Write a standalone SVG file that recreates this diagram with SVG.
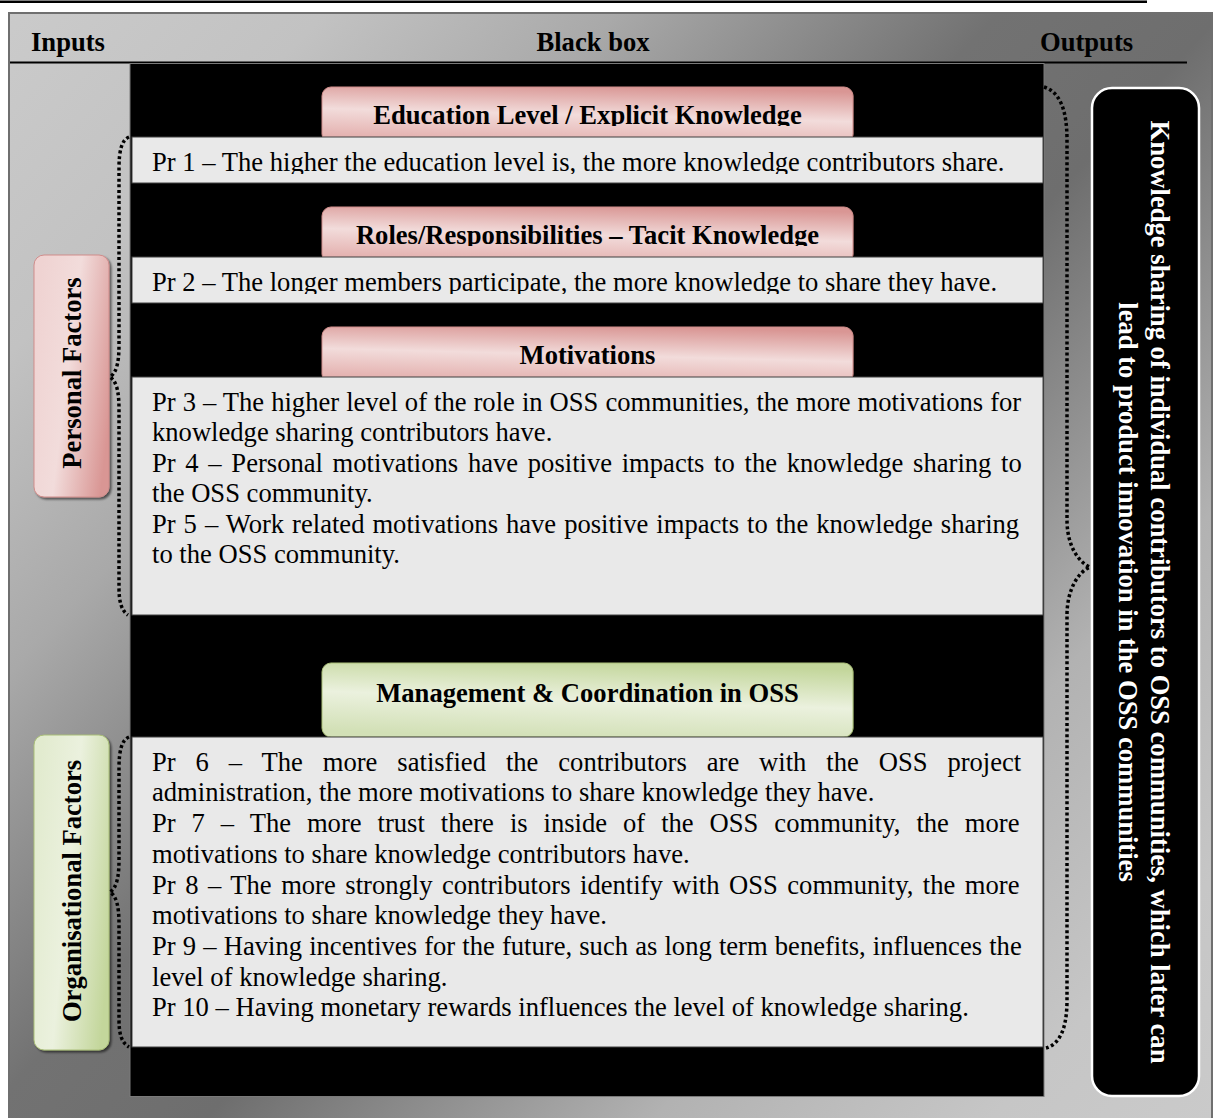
<svg xmlns="http://www.w3.org/2000/svg" width="1216" height="1118" viewBox="0 0 1216 1118">
  <defs>
    <!-- diagonal grey backdrop of the whole figure -->
    <linearGradient id="bg" gradientUnits="userSpaceOnUse" x1="0" y1="0" x2="1216" y2="1118">
      <stop offset="0" stop-color="#cbcbcb"/>
      <stop offset="0.15" stop-color="#c2c2c2"/>
      <stop offset="0.28" stop-color="#a9a9a9"/>
      <stop offset="0.45" stop-color="#727272"/>
      <stop offset="0.55" stop-color="#6e6e6e"/>
      <stop offset="0.75" stop-color="#b2b2b2"/>
      <stop offset="0.9" stop-color="#c6c6c6"/>
      <stop offset="1" stop-color="#cacaca"/>
    </linearGradient>
    <linearGradient id="pinkH" x1="0.62" y1="0" x2="0.38" y2="1">
      <stop offset="0" stop-color="#d99694"/>
      <stop offset="0.5" stop-color="#f2dcdb"/>
      <stop offset="1" stop-color="#e3aeac"/>
    </linearGradient>
    <linearGradient id="pinkV" x1="0" y1="0.3" x2="1" y2="0.7">
      <stop offset="0" stop-color="#efd3d2"/>
      <stop offset="0.45" stop-color="#f2dcdb"/>
      <stop offset="1" stop-color="#d99694"/>
    </linearGradient>
    <linearGradient id="greenH" x1="0.62" y1="0" x2="0.38" y2="1">
      <stop offset="0" stop-color="#c3d69b"/>
      <stop offset="0.5" stop-color="#ebf1de"/>
      <stop offset="1" stop-color="#d2e0b6"/>
    </linearGradient>
    <linearGradient id="greenV" x1="0" y1="0.3" x2="1" y2="0.7">
      <stop offset="0" stop-color="#e2ebcf"/>
      <stop offset="0.45" stop-color="#ebf1de"/>
      <stop offset="1" stop-color="#c3d69b"/>
    </linearGradient>
    <filter id="shadow" x="-10%" y="-10%" width="120%" height="130%">
      <feDropShadow dx="2" dy="2" stdDeviation="1" flood-color="#000" flood-opacity="0.55"/>
    </filter>
    <!-- text areas of the shapes cut their lines off -->
    <clipPath id="clipH1"><rect x="322" y="87" width="531" height="39"/></clipPath>
    <clipPath id="clipH2"><rect x="322" y="207" width="531" height="39"/></clipPath>
    <clipPath id="clipH3"><rect x="322" y="327" width="531" height="39"/></clipPath>
    <clipPath id="clipP1"><rect x="132" y="137" width="911" height="37"/></clipPath>
    <clipPath id="clipP2"><rect x="132" y="257" width="911" height="37"/></clipPath>
  </defs>
  <style>
    text { font-family: "Liberation Serif", "Times New Roman", serif; font-size: 26.6px; fill: #000; }
    .b { font-weight: bold; }
    .mid { text-anchor: middle; }
    .white { fill: #fff; }
    .panel { fill: #e9e9e9; stroke: #404040; stroke-width: 1; }
    .pinkH { fill: url(#pinkH); stroke: #d08d8b; stroke-width: 1; filter: url(#shadow); }
    .pinkV { fill: url(#pinkV); stroke: #d08d8b; stroke-width: 1; filter: url(#shadow); }
    .greenH { fill: url(#greenH); stroke: #aabf78; stroke-width: 1; filter: url(#shadow); }
    .greenV { fill: url(#greenV); stroke: #aabf78; stroke-width: 1; filter: url(#shadow); }
    .brace { fill: none; stroke: #000; stroke-width: 3.5; stroke-dasharray: 3 2.6; }
  </style>

  <!-- page rule above the figure -->
  <rect x="0" y="0.5" width="1147" height="2.5" fill="#000"/>

  <!-- figure frame and header row -->
  <g id="frame">
    <rect x="9" y="13" width="1203" height="1115" fill="url(#bg)" stroke="#6f6f6f" stroke-width="2"/>
    <rect x="10" y="61.5" width="1177" height="2" fill="#000"/>
    <text class="b" x="31" y="51">Inputs</text>
    <text class="b mid" x="593" y="51">Black box</text>
    <text class="b" x="1040" y="51">Outputs</text>
  </g>

  <!-- central black box -->
  <g id="black-box">
    <rect x="130" y="63.5" width="914" height="1033" fill="#000" stroke="#7a7a7a" stroke-width="1"/>
  </g>

  <!-- personal factors -->
  <g id="education-header">
    <rect class="pinkH" x="322" y="87" width="531" height="56" rx="9"/>
    <text class="b mid" x="587.5" y="123.5" clip-path="url(#clipH1)">Education Level / Explicit Knowledge</text>
  </g>
  <g id="pr1">
    <rect class="panel" x="132" y="137" width="911" height="46"/>
    <text x="152" y="170.7" clip-path="url(#clipP1)">Pr 1 – The higher the education level is, the more knowledge contributors share.</text>
  </g>

  <g id="roles-header">
    <rect class="pinkH" x="322" y="207" width="531" height="56" rx="9"/>
    <text class="b mid" x="587.5" y="243.5" clip-path="url(#clipH2)">Roles/Responsibilities – Tacit Knowledge</text>
  </g>
  <g id="pr2">
    <rect class="panel" x="132" y="257" width="911" height="46"/>
    <text x="152" y="290.7" clip-path="url(#clipP2)">Pr 2 – The longer members participate, the more knowledge to share they have.</text>
  </g>

  <g id="motivations-header">
    <rect class="pinkH" x="322" y="327" width="531" height="56" rx="9"/>
    <text class="b mid" x="587.5" y="363.5" clip-path="url(#clipH3)">Motivations</text>
  </g>
  <g id="pr3-5">
    <rect class="panel" x="132" y="377" width="911" height="238"/>
    <text x="152" y="410.7" word-spacing="0.37">Pr 3 – The higher level of the role in OSS communities, the more motivations for</text>
    <text x="152" y="441.2">knowledge sharing contributors have.</text>
    <text x="152" y="471.7" word-spacing="3.05">Pr 4 – Personal motivations have positive impacts to the knowledge sharing to</text>
    <text x="152" y="502.2">the OSS community.</text>
    <text x="152" y="532.7" word-spacing="1.33">Pr 5 – Work related motivations have positive impacts to the knowledge sharing</text>
    <text x="152" y="563.2">to the OSS community.</text>
  </g>

  <!-- organisational factors -->
  <g id="management-header">
    <rect class="greenH" x="322" y="663" width="531" height="74" rx="9"/>
    <text class="b mid" x="587.5" y="702">Management &amp; Coordination in OSS</text>
  </g>
  <g id="pr6-10">
    <rect class="panel" x="132" y="737" width="911" height="310"/>
    <text x="152" y="770.7" word-spacing="13.27">Pr 6 – The more satisfied the contributors are with the OSS project</text>
    <text x="152" y="801.4">administration, the more motivations to share knowledge they have.</text>
    <text x="152" y="832.1" word-spacing="9.31">Pr 7 – The more trust there is inside of the OSS community, the more</text>
    <text x="152" y="862.8">motivations to share knowledge contributors have.</text>
    <text x="152" y="893.5" word-spacing="2.86">Pr 8 – The more strongly contributors identify with OSS community, the more</text>
    <text x="152" y="924.2">motivations to share knowledge they have.</text>
    <text x="152" y="954.9" word-spacing="0.51">Pr 9 – Having incentives for the future, such as long term benefits, influences the</text>
    <text x="152" y="985.6">level of knowledge sharing.</text>
    <text x="152" y="1016.3">Pr 10 – Having monetary rewards influences the level of knowledge sharing.</text>
  </g>

  <!-- input labels -->
  <g id="personal-factors">
    <rect class="pinkV" x="34" y="255" width="75" height="242" rx="10"/>
    <text class="b mid" transform="translate(81 373) rotate(-90)">Personal Factors</text>
  </g>
  <g id="organisational-factors">
    <rect class="greenV" x="34" y="735" width="75" height="315" rx="10"/>
    <text class="b mid" transform="translate(81 891) rotate(-90)">Organisational Factors</text>
  </g>

  <!-- output -->
  <g id="output">
    <rect x="1092" y="88" width="107" height="1008" rx="20" fill="#000" stroke="#fff" stroke-width="2.5"/>
    <g transform="translate(1151 592) rotate(90)">
      <text class="b mid white" x="0" y="0">Knowledge sharing of individual contributors to OSS communities, which later can</text>
      <text class="b mid white" x="0" y="32">lead to product innovation in the OSS communities</text>
    </g>
  </g>

  <!-- dotted braces grouping the propositions -->
  <g id="connectors">
    <path class="brace" d="M129,137 C122,140 119,150 119,168 L119,345 C119,364 116,373 110,377 C116,381 119,390 119,409 L119,588 C119,603 122,611 128,615"/>
    <path class="brace" d="M129,737 C122,740 119,750 119,768 L119,860 C119,879 116,888 110,892 C116,896 119,905 119,924 L119,1020 C119,1035 122,1043 129,1047"/>
    <path class="brace" d="M1044,87 C1060,92 1067,110 1067,140 L1067,520 C1067,545 1078,562 1090,567 C1078,572 1067,590 1067,615 L1067,1000 C1067,1028 1060,1044 1046,1048"/>
  </g>
</svg>
